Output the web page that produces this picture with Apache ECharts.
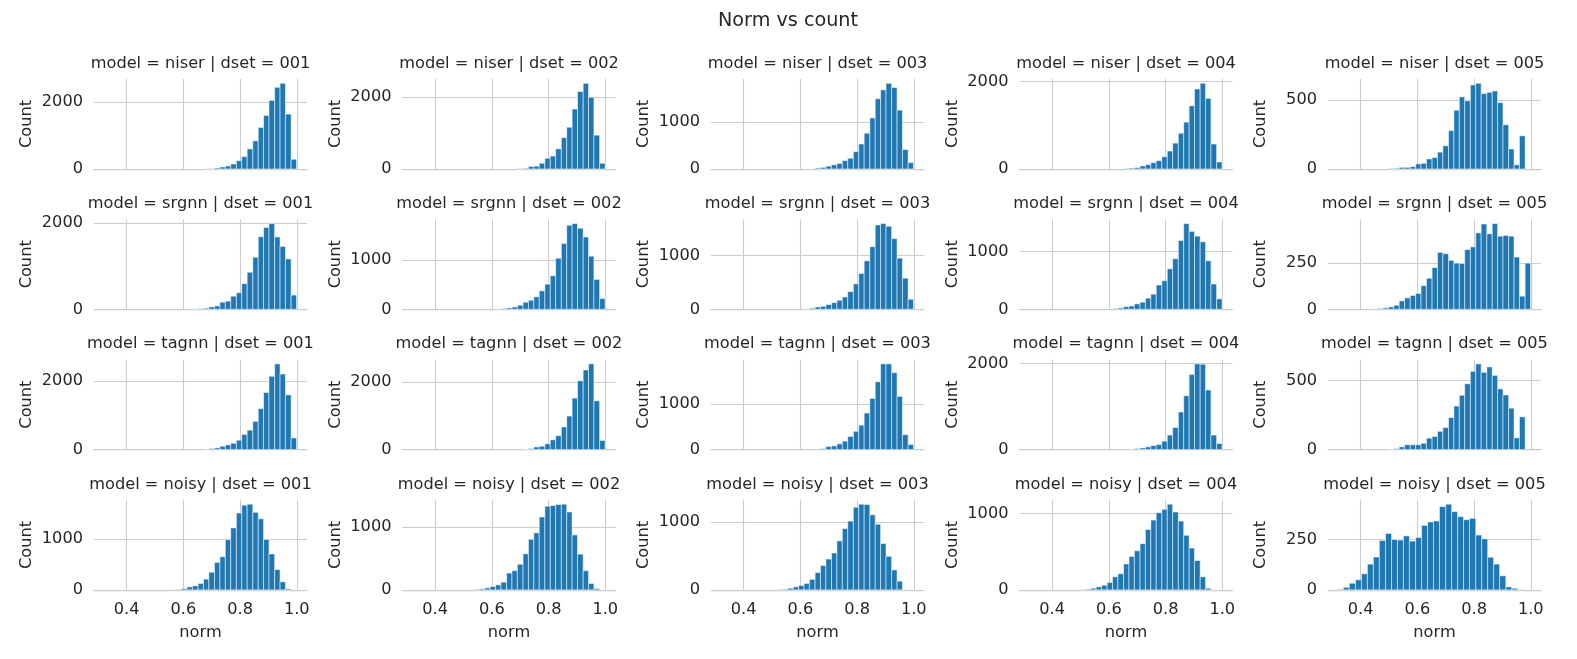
<!DOCTYPE html>
<html><head><meta charset="utf-8">
<script src="https://cdn.jsdelivr.net/npm/echarts@6/dist/echarts.min.js"></script>
<style>html,body{margin:0;padding:0;background:#fff}#chart{width:1577px;height:659px}</style>
</head><body><div id="chart"></div>
<script>
const chartTitle = 'Norm vs count';
const models = ['niser', 'srgnn', 'tagnn', 'noisy'];
const dsets = ['001', '002', '003', '004', '005'];
const xTickValues = [0.4, 0.6, 0.8, 1.0];
const yTickSteps = [
  [2000, 2000, 1000, 2000, 500],
  [2000, 1000, 1000, 1000, 250],
  [2000, 2000, 1000, 2000, 500],
  [1000, 1000, 1000, 1000, 250]
];
// common histogram bin edges (35 bins)
const binEdges = [0.324,0.343,0.363,0.382,0.401,0.420,0.440,0.459,0.478,0.498,0.517,0.536,0.555,0.575,0.594,0.613,0.632,0.652,0.671,0.690,0.710,0.729,0.748,0.767,0.787,0.806,0.825,0.845,0.864,0.883,0.902,0.922,0.941,0.960,0.980,0.999];
// bin edges of the noisy / 005 panel (31 bins)
const noisy005Edges = [0.318,0.339,0.360,0.382,0.403,0.424,0.445,0.466,0.488,0.509,0.530,0.551,0.572,0.594,0.615,0.636,0.657,0.678,0.700,0.721,0.742,0.763,0.784,0.806,0.827,0.848,0.869,0.890,0.912,0.933,0.954,0.975];

const niser001 = [0,0,0,0,0,0,0,0,0,0,0,0,0,0,0,0,0,0,5,10,30,60,90,150,250,370,600,840,1240,1600,2050,2440,2560,1640,290];
const niser002 = [0,0,0,0,0,0,0,0,0,0,0,0,0,0,0,0,0,0,0,10,20,70,80,160,300,360,560,870,1160,1665,2150,2380,1990,940,160];
const niser003 = [0,0,0,0,0,0,0,0,0,0,0,0,0,0,0,0,0,20,35,60,90,120,180,230,370,535,765,1090,1500,1690,1830,1740,1257,415,135];
const niser004 = [0,0,0,0,0,0,0,0,0,0,0,0,0,0,0,0,0,10,20,30,70,100,145,190,280,410,590,815,1070,1440,1825,1955,1610,570,160];
const niser005 = [0,0,0,0,0,0,0,0,0,3,5,12,12,17,37,41,73,83,122,168,278,425,522,493,608,620,545,555,565,480,320,145,30,240,0];

const srgnn001 = [0,0,0,0,0,0,0,0,0,0,0,0,0,0,0,0,8,15,25,55,80,165,190,305,385,595,860,1210,1685,1900,1990,1680,1460,1170,330];
const srgnn002 = [0,0,0,0,0,0,0,0,0,0,0,0,0,0,0,7,14,27,48,82,143,184,252,374,510,680,1034,1333,1700,1734,1640,1462,1075,605,218];
const srgnn003 = [0,0,0,0,0,0,0,0,0,0,0,0,0,0,0,6,19,44,56,88,125,169,231,331,475,669,906,1169,1575,1600,1550,1319,956,581,188];
const srgnn004 = [0,0,0,0,0,0,0,0,0,0,0,0,0,0,0,12,23,47,58,94,123,193,263,421,497,702,877,1193,1486,1351,1269,1170,842,439,181];
const srgnn005 = [0,0,0,0,0,0,2,4,7,13,22,46,62,75,86,128,168,226,308,301,265,250,248,323,338,414,462,409,464,396,400,396,283,71,250];

const tagnn001 = [0,0,0,0,0,0,0,0,0,0,0,0,0,0,0,0,0,0,10,30,50,98,137,185,273,440,566,820,1190,1660,2130,2490,2195,1590,340];
const tagnn002 = [0,0,0,0,0,0,0,0,0,0,0,0,0,0,0,0,0,0,0,0,10,30,80,100,170,290,410,670,990,1520,2030,2350,2530,1440,270];
const tagnn003 = [0,0,0,0,0,0,0,0,0,0,0,0,0,0,0,0,0,0,22,67,81,126,185,289,400,533,800,1119,1482,1874,1874,1682,1163,326,111];
const tagnn004 = [0,0,0,0,0,0,0,0,0,0,0,0,0,0,0,0,0,0,10,24,39,63,94,118,197,338,512,874,1251,1747,1991,1983,1385,338,142];
const tagnn005 = [0,0,0,0,0,0,0,0,0,3,7,20,35,35,35,46,83,95,132,159,232,315,393,476,566,620,559,598,537,439,395,300,85,237,0];

const noisy001 = [0,0,0,0,0,0,0,0,0,0,0,0,5,10,27,60,80,127,213,347,540,653,987,1220,1513,1667,1687,1527,1400,993,707,400,160,20,0];
const noisy002 = [0,0,0,0,0,0,0,0,0,0,0,8,16,32,53,80,123,267,305,407,572,802,904,1156,1327,1338,1354,1359,1236,872,567,305,102,21,0];
const noisy003 = [0,0,0,0,0,0,0,0,0,0,5,10,25,45,65,95,154,254,358,453,542,721,900,1010,1214,1259,1254,1104,965,682,493,294,129,5,0];
const noisy004 = [0,0,0,0,0,0,0,0,0,5,10,22,40,62,97,172,212,340,438,513,606,791,915,1012,1056,1123,1021,902,716,548,385,172,22,0,0];
const noisy005 = [3,13,33,50,80,128,163,245,280,250,247,268,242,260,320,337,342,413,425,388,363,348,355,272,253,162,128,70,15,8,2];

const panelCounts = [
  [niser001, niser002, niser003, niser004, niser005],
  [srgnn001, srgnn002, srgnn003, srgnn004, srgnn005],
  [tagnn001, tagnn002, tagnn003, tagnn004, tagnn005],
  [noisy001, noisy002, noisy003, noisy004, noisy005]
];
const panelEdges = [
  [binEdges, binEdges, binEdges, binEdges, binEdges],
  [binEdges, binEdges, binEdges, binEdges, binEdges],
  [binEdges, binEdges, binEdges, binEdges, binEdges],
  [binEdges, binEdges, binEdges, binEdges, noisy005Edges]
];

const FONT = 'DejaVu Sans';
const TXT = '#262626';
const GRIDC = '#cccccc';
const BAR = '#1f77b4';
const colLeft0 = 94, colStep = 308.5, plotW = 213;
const rowTop0 = 79, rowStep = 140.3, plotH = 90;

const grids = [], xAxes = [], yAxes = [], series = [], titles = [];
titles.push({
  text: chartTitle, left: 788, top: 21, textAlign: 'center', textVerticalAlign: 'middle', padding: 0,
  textStyle: { fontFamily: FONT, fontSize: 19.2, fontWeight: 'normal', color: TXT }
});

models.forEach((m, r) => {
  dsets.forEach((d, c) => {
    const idx = grids.length;
    const left = colLeft0 + c * colStep;
    const top = rowTop0 + r * rowStep;
    grids.push({ left: left, top: top, width: plotW, height: plotH, outerBoundsMode: 'none', containLabel: false });
    titles.push({
      text: 'model = ' + m + ' | dset = ' + d,
      left: left + plotW / 2, top: top - 15.5, textAlign: 'center', textVerticalAlign: 'middle', padding: 0,
      textStyle: { fontFamily: FONT, fontSize: 16.2, fontWeight: 'normal', color: TXT }
    });
    const counts = panelCounts[r][c];
    const edges = panelEdges[r][c];
    const maxCount = Math.max.apply(null, counts);
    const yMax = maxCount * 1.05;
    const step = yTickSteps[r][c];
    const yTicks = [];
    for (let v = 0; v <= yMax; v += step) yTicks.push(v);
    const bottomRow = r === models.length - 1;
    xAxes.push({
      type: 'value', gridIndex: idx, min: 0.285, max: 1.036,
      name: bottomRow ? 'norm' : '', nameLocation: 'middle', nameGap: 35, nameMoveOverlap: false,
      nameTextStyle: { fontFamily: FONT, fontSize: 16.2, color: TXT },
      axisLine: { show: true, onZero: false, lineStyle: { color: GRIDC, width: 1.25 } },
      axisTick: { show: false, customValues: xTickValues },
      axisLabel: { show: bottomRow, customValues: xTickValues, margin: 12,
        formatter: v => v.toFixed(1), fontFamily: FONT, fontSize: 16.2, color: TXT },
      splitLine: { show: true, lineStyle: { color: GRIDC, width: 1.1 } }
    });
    yAxes.push({
      type: 'value', gridIndex: idx, min: 0, max: yMax,
      name: 'Count', nameLocation: 'middle', nameGap: 59, nameRotate: 90, nameMoveOverlap: false,
      nameTextStyle: { fontFamily: FONT, fontSize: 16.2, color: TXT },
      axisLine: { show: false },
      axisTick: { show: false, customValues: yTicks },
      axisLabel: { customValues: yTicks, margin: 11, fontFamily: FONT, fontSize: 16.2, color: TXT,
        formatter: v => String(Math.round(v)) },
      splitLine: { show: true, lineStyle: { color: GRIDC, width: 1.1 } }
    });
    const data = [];
    counts.forEach((n, i) => { if (n > 0) data.push([edges[i], edges[i + 1], n]); });
    series.push({
      type: 'custom', coordinateSystem: 'cartesian2d', xAxisIndex: idx, yAxisIndex: idx,
      data: data, encode: { x: [0, 1], y: 2 }, silent: true,
      renderItem: function (params, api) {
        const p0 = api.coord([api.value(0), api.value(2)]);
        const p1 = api.coord([api.value(1), 0]);
        return {
          type: 'rect',
          shape: { x: p0[0], y: p0[1], width: p1[0] - p0[0], height: p1[1] - p0[1] },
          style: { fill: BAR, stroke: 'rgba(255,255,255,0.75)', lineWidth: 0.7 }
        };
      }
    });
  });
});

const chart = echarts.init(document.getElementById('chart'), null, { renderer: 'canvas' });
chart.setOption({
  animation: false,
  backgroundColor: '#ffffff',
  title: titles,
  grid: grids,
  xAxis: xAxes,
  yAxis: yAxes,
  series: series
});
</script>
</body></html>
